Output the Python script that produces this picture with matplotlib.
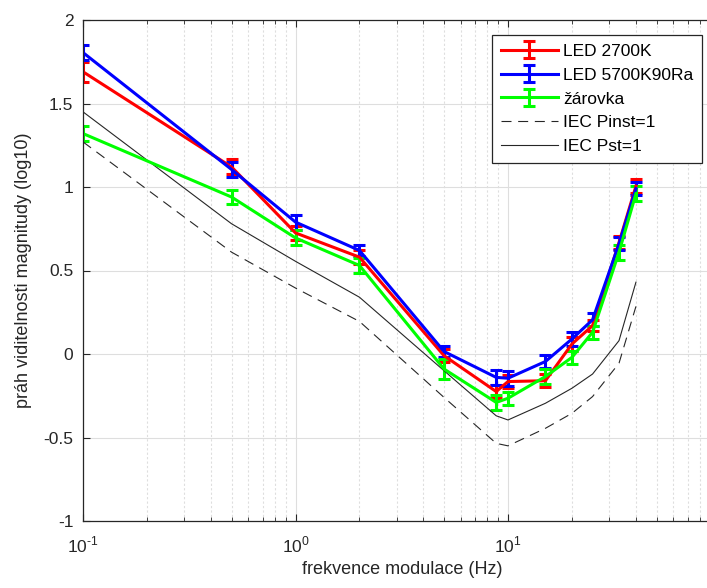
import numpy as np
import matplotlib
matplotlib.use('Agg')
import matplotlib.pyplot as plt

plt.rcParams['font.family'] = ['Liberation Sans', 'DejaVu Sans']
plt.rcParams['mathtext.fontset'] = 'custom'
plt.rcParams['mathtext.rm'] = 'Liberation Sans'
plt.rcParams['axes.unicode_minus'] = False

# modulation frequencies (Hz)
freq = [0.1, 0.5, 1, 2, 5, 8.8, 10, 15, 20, 25, 33.3, 40]

led2700 = [1.69, 1.12, 0.725, 0.58, -0.01, -0.225, -0.165, -0.16, 0.06, 0.17, 0.667, 1.005]
led2700_err = [0.06, 0.045, 0.04, 0.04, 0.04, 0.04, 0.04, 0.04, 0.04, 0.035, 0.04, 0.043]

led5700 = [1.805, 1.105, 0.79, 0.62, 0.015, -0.14, -0.145, -0.045, 0.09, 0.205, 0.66, 0.99]
led5700_err = [0.045, 0.045, 0.045, 0.035, 0.035, 0.045, 0.045, 0.04, 0.04, 0.04, 0.04, 0.04]

zarovka = [1.32, 0.94, 0.695, 0.53, -0.09, -0.29, -0.265, -0.135, -0.02, 0.13, 0.61, 0.96]
zarovka_err = [0.045, 0.04, 0.045, 0.045, 0.06, 0.045, 0.04, 0.045, 0.04, 0.04, 0.045, 0.045]

iec_pinst = [1.27, 0.61, 0.395, 0.195, -0.26, -0.535, -0.55, -0.445, -0.355, -0.255, -0.055, 0.285]
iec_pst = [1.45, 0.78, 0.555, 0.34, -0.10, -0.37, -0.395, -0.295, -0.205, -0.12, 0.08, 0.43]

labels = ['LED 2700K', 'LED 5700K90Ra', 'žárovka', 'IEC Pinst=1', 'IEC Pst=1']
xticks = [0.1, 1, 10]
xticklabels = ['$10^{\\text{-}1}$', '$10^{0}$', '$10^{1}$']

fig = plt.figure(figsize=(7.07, 5.88), dpi=100)
# axes runs past the right edge of the figure (cropped like the original)
ax = fig.add_axes([83/707, 67/588, 637.5/707, 501/588])

h1 = ax.errorbar(freq, led2700, yerr=led2700_err, color=(1, 0, 0), lw=2.2,
                 elinewidth=2.2, capsize=4.5, capthick=2.2)
h2 = ax.errorbar(freq, led5700, yerr=led5700_err, color=(0, 0, 1), lw=2.2,
                 elinewidth=2.2, capsize=4.5, capthick=2.2)
h3 = ax.errorbar(freq, zarovka, yerr=zarovka_err, color=(0, 1, 0), lw=2.2,
                 elinewidth=2.2, capsize=4.5, capthick=2.2)
h4, = ax.plot(freq, iec_pinst, color='#262626', lw=0.8, ls=(0, (9, 6)))
h5, = ax.plot(freq, iec_pst, color='#262626', lw=0.8)

ax.set_xscale('log')
ax.set_xlim(0.1, 100)
ax.set_ylim(-1, 2)
ax.set_xticks(xticks)
ax.set_xticklabels(xticklabels)
ax.set_yticks([-1, -0.5, 0, 0.5, 1, 1.5, 2])
ax.set_yticklabels(['-1', '-0.5', '0', '0.5', '1', '1.5', '2'])

ax.grid(True, which='major', color='#dedede', lw=0.8)
ax.grid(True, which='minor', axis='x', color='#dedede', lw=0.8, ls=(0, (2, 2)))
ax.set_axisbelow(True)

for s in ['top', 'bottom', 'left', 'right']:
    ax.spines[s].set_color('#262626')
    ax.spines[s].set_linewidth(0.9)

ax.tick_params(which='both', direction='in', top=True, right=True, colors='#262626',
               labelsize=12.5)
ax.tick_params(which='major', length=5)
ax.tick_params(which='minor', length=3)
ax.tick_params(axis='x', pad=10)
ax.tick_params(axis='y', pad=7)

ax.set_xlabel('frekvence modulace (Hz)', fontsize=13, color='#262626', labelpad=4)
ax.set_ylabel('práh viditelnosti magnitudy (log10)', fontsize=13, color='#262626', labelpad=8)

leg = ax.legend([h1, h2, h3, h4, h5], labels, loc='upper right',
                bbox_to_anchor=(702/707, 1 - 35/588),
                bbox_transform=fig.transFigure, fontsize=12.5, fancybox=False,
                framealpha=1, edgecolor='#262626', handlelength=3.3,
                labelspacing=0.5, borderaxespad=0, handletextpad=0.3,
                borderpad=0.5)
leg.get_frame().set_linewidth(0.9)

plt.savefig('out.png', dpi=100)
